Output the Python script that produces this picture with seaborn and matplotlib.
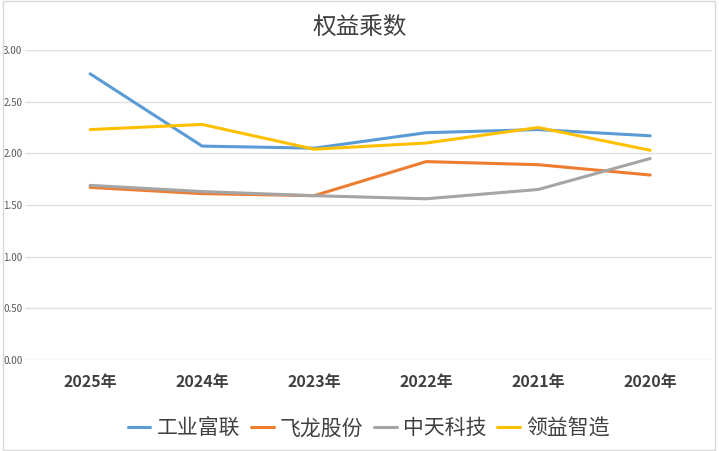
import pandas as pd
import seaborn as sns
import matplotlib.pyplot as plt

# 数据
years = ['2025年', '2024年', '2023年', '2022年', '2021年', '2020年']
gongye_fulian = [2.77, 2.07, 2.05, 2.20, 2.23, 2.17]
feilong_gufen = [1.67, 1.61, 1.59, 1.92, 1.89, 1.79]
zhongtian_keji = [1.69, 1.63, 1.59, 1.56, 1.65, 1.95]
lingyi_zhizao = [2.23, 2.28, 2.04, 2.10, 2.25, 2.03]

names = ['工业富联', '飞龙股份', '中天科技', '领益智造']
colors = ['#5B9BD5', '#ED7D31', '#A5A5A5', '#FFC000']

data = pd.DataFrame({
    '年份': years,
    '工业富联': gongye_fulian,
    '飞龙股份': feilong_gufen,
    '中天科技': zhongtian_keji,
    '领益智造': lingyi_zhizao,
})
data_melted = pd.melt(data, id_vars=['年份'], value_vars=names,
                      var_name='公司', value_name='值')

sns.set_theme(style="white")
plt.rcParams['font.family'] = ['Noto Sans CJK SC', 'DejaVu Sans']

fig = plt.figure(figsize=(7.19, 4.51), dpi=100)
ax = fig.add_axes([0.035, 0.202, 0.955, 0.687])

sns.lineplot(data=data_melted, x='年份', y='值', hue='公司', hue_order=names,
             palette=colors, linewidth=2.2, sort=False, ax=ax)

ax.set_ylim(0, 3.0)
ax.set_yticks([0, 0.5, 1.0, 1.5, 2.0, 2.5, 3.0])
ax.set_yticklabels([f'{v:.2f}' for v in ax.get_yticks()], fontsize=7, color='#595959')
ax.set_xlim(-0.58, 5.55)
ax.grid(axis='y', color='#E0E0E0', linewidth=1)
for s in ax.spines.values():
    s.set_visible(False)
ax.tick_params(axis='x', length=0, pad=10, labelsize=11.5, labelcolor='#404040')
ax.tick_params(axis='y', length=0, pad=2)
for lab in ax.get_xticklabels():
    lab.set_fontweight('bold')
ax.set_xlabel('')
ax.set_ylabel('')

fig.suptitle('权益乘数', x=0.5, y=0.965, fontsize=17, color='#404040')

ax.legend(loc='upper center', bbox_to_anchor=(0.5, -0.125), ncol=4, frameon=False,
          fontsize=15, handlelength=1.1, handletextpad=0.3, columnspacing=0.5,
          labelcolor='#404040')

# 外框
fig.patches.append(plt.Rectangle((0.004, 0.002), 0.99, 0.996, transform=fig.transFigure,
                                 fill=False, edgecolor='#D9D9D9', linewidth=1))

plt.savefig('out.png', dpi=100)
